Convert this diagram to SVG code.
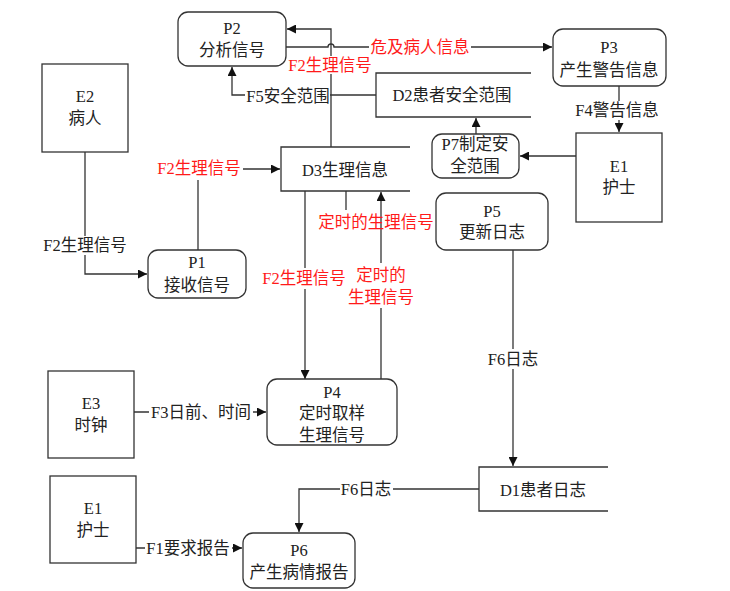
<svg xmlns="http://www.w3.org/2000/svg" width="730" height="591" viewBox="0 0 730 591">
<style>
text{font-family:"Liberation Serif","Noto Sans CJK SC",serif;font-size:16.5px;fill:#222;text-anchor:middle}
.red{fill:#ff1a1a}
.box{fill:#fff;stroke:#333;stroke-width:1.3}
.ln{fill:none;stroke:#333;stroke-width:1.3}
.bg{fill:#fff;stroke:none}
</style>
<defs>
<marker id="ah" viewBox="0 0 10 10" refX="10" refY="5" markerWidth="9" markerHeight="9" markerUnits="userSpaceOnUse" orient="auto">
<path d="M0,0 L10,5 L0,10 Z" fill="#111"/>
</marker>
</defs>
<rect width="730" height="591" fill="#fff"/>

<g id="connectors">
<!-- D3 -> P2 -->
<path class="ln" d="M331,147 V29 H287" marker-end="url(#ah)"/>
<!-- P2 -> P3 with hop -->
<path class="ln" d="M286,47 H328 a3,3 0 0 1 6,0 H552" marker-end="url(#ah)"/>
<!-- D2 -> P2 -->
<path class="ln" d="M376,95 H232 V67" marker-end="url(#ah)"/>
<!-- P3 -> E1 -->
<path class="ln" d="M619,86 V132" marker-end="url(#ah)"/>
<!-- E1 -> P7 -->
<path class="ln" d="M576,156 H520" marker-end="url(#ah)"/>
<!-- P7 -> D2 -->
<path class="ln" d="M476,134 V118" marker-end="url(#ah)"/>
<!-- E2 -> P1 -->
<path class="ln" d="M85,152 V274 H147" marker-end="url(#ah)"/>
<!-- P1 -> D3 -->
<path class="ln" d="M198,250 V180"/>
<path class="ln" d="M243,169 H280" marker-end="url(#ah)"/>
<!-- D3 -> P4 -->
<path class="ln" d="M305,191 V379" marker-end="url(#ah)"/>
<!-- P4 -> D3 -->
<path class="ln" d="M381,379 V192" marker-end="url(#ah)"/>
<!-- D3 -> P5 -->
<path class="ln" d="M346,191 V210"/>
<!-- P5 -> D1 -->
<path class="ln" d="M513,250 V466" marker-end="url(#ah)"/>
<!-- E3 -> P4 -->
<path class="ln" d="M134,412 H266" marker-end="url(#ah)"/>
<!-- D1 -> P6 -->
<path class="ln" d="M479,489 H299 V532" marker-end="url(#ah)"/>
<!-- E1 -> P6 -->
<path class="ln" d="M136,548 H242" marker-end="url(#ah)"/>

<!-- labels -->
<rect class="bg" x="369" y="38" width="102" height="20"/>
<text class="red" x="420" y="53">危及病人信息</text>
<rect class="bg" x="288" y="56" width="85" height="18"/>
<text class="red" x="330" y="71">F2生理信号</text>
<rect class="bg" x="245" y="86" width="85" height="19"/>
<text x="288" y="102">F5安全范围</text>
<rect class="bg" x="575" y="101" width="86" height="19"/>
<text x="617" y="116">F4警告信息</text>
<text class="red" x="199" y="174">F2生理信号</text>
<rect class="bg" x="42" y="236" width="86" height="19"/>
<text x="85" y="251">F2生理信号</text>
<text class="red" x="376" y="228">定时的生理信号</text>
<rect class="bg" x="261" y="268" width="87" height="21"/>
<text class="red" x="304" y="284">F2生理信号</text>
<rect class="bg" x="346" y="263" width="69" height="45"/>
<text class="red" x="381" y="281">定时的</text>
<text class="red" x="381" y="303">生理信号</text>
<rect class="bg" x="486" y="349" width="54" height="20"/>
<text x="513" y="365">F6日志</text>
<rect class="bg" x="149" y="403" width="104" height="19"/>
<text x="201" y="418">F3日前、时间</text>
<rect class="bg" x="340" y="480" width="53" height="19"/>
<text x="366" y="495">F6日志</text>
<rect class="bg" x="145" y="539" width="87" height="19"/>
<text x="188" y="554">F1要求报告</text>
</g>

<g id="P2">
<rect class="box" x="178" y="12" width="108" height="54" rx="10"/>
<text x="232" y="34">P2</text>
<text x="232" y="56">分析信号</text>
</g>
<g id="P3">
<rect class="box" x="553" y="29" width="113" height="57" rx="10"/>
<text x="609" y="53">P3</text>
<text x="609" y="76">产生警告信息</text>
</g>
<g id="D2">
<path class="ln" d="M531,73 H376 V117 H531"/>
<text x="452" y="101">D2患者安全范围</text>
</g>
<g id="E2">
<rect class="box" x="42" y="64" width="86" height="88"/>
<text x="85" y="102">E2</text>
<text x="85" y="124">病人</text>
</g>
<g id="E1_top">
<rect class="box" x="576" y="133" width="86" height="89"/>
<text x="619" y="172">E1</text>
<text x="619" y="193">护士</text>
</g>
<g id="P7">
<rect class="box" x="432" y="134" width="87" height="44" rx="10"/>
<text x="475" y="150">P7制定安</text>
<text x="475" y="172">全范围</text>
</g>
<g id="D3">
<path class="ln" d="M410,147 H281 V191 H410"/>
<text x="345" y="176">D3生理信息</text>
</g>
<g id="P1">
<rect class="box" x="148" y="250" width="98" height="48" rx="10"/>
<text x="197" y="268">P1</text>
<text x="197" y="291">接收信号</text>
</g>
<g id="P5">
<rect class="box" x="436" y="193" width="112" height="57" rx="10"/>
<text x="492" y="217">P5</text>
<text x="492" y="238">更新日志</text>
</g>
<g id="E3">
<rect class="box" x="48" y="371" width="86" height="87"/>
<text x="91" y="409">E3</text>
<text x="91" y="431">时钟</text>
</g>
<g id="P4">
<rect class="box" x="267" y="379" width="130" height="66" rx="10"/>
<text x="332" y="398">P4</text>
<text x="332" y="419">定时取样</text>
<text x="332" y="441">生理信号</text>
</g>
<g id="D1">
<path class="ln" d="M608,467 H479 V511 H608"/>
<text x="543" y="496">D1患者日志</text>
</g>
<g id="E1_bottom">
<rect class="box" x="50" y="476" width="86" height="87"/>
<text x="93" y="514">E1</text>
<text x="93" y="536">护士</text>
</g>
<g id="P6">
<rect class="box" x="243" y="533" width="112" height="55" rx="10"/>
<text x="299" y="556">P6</text>
<text x="299" y="578">产生病情报告</text>
</g>
</svg>
